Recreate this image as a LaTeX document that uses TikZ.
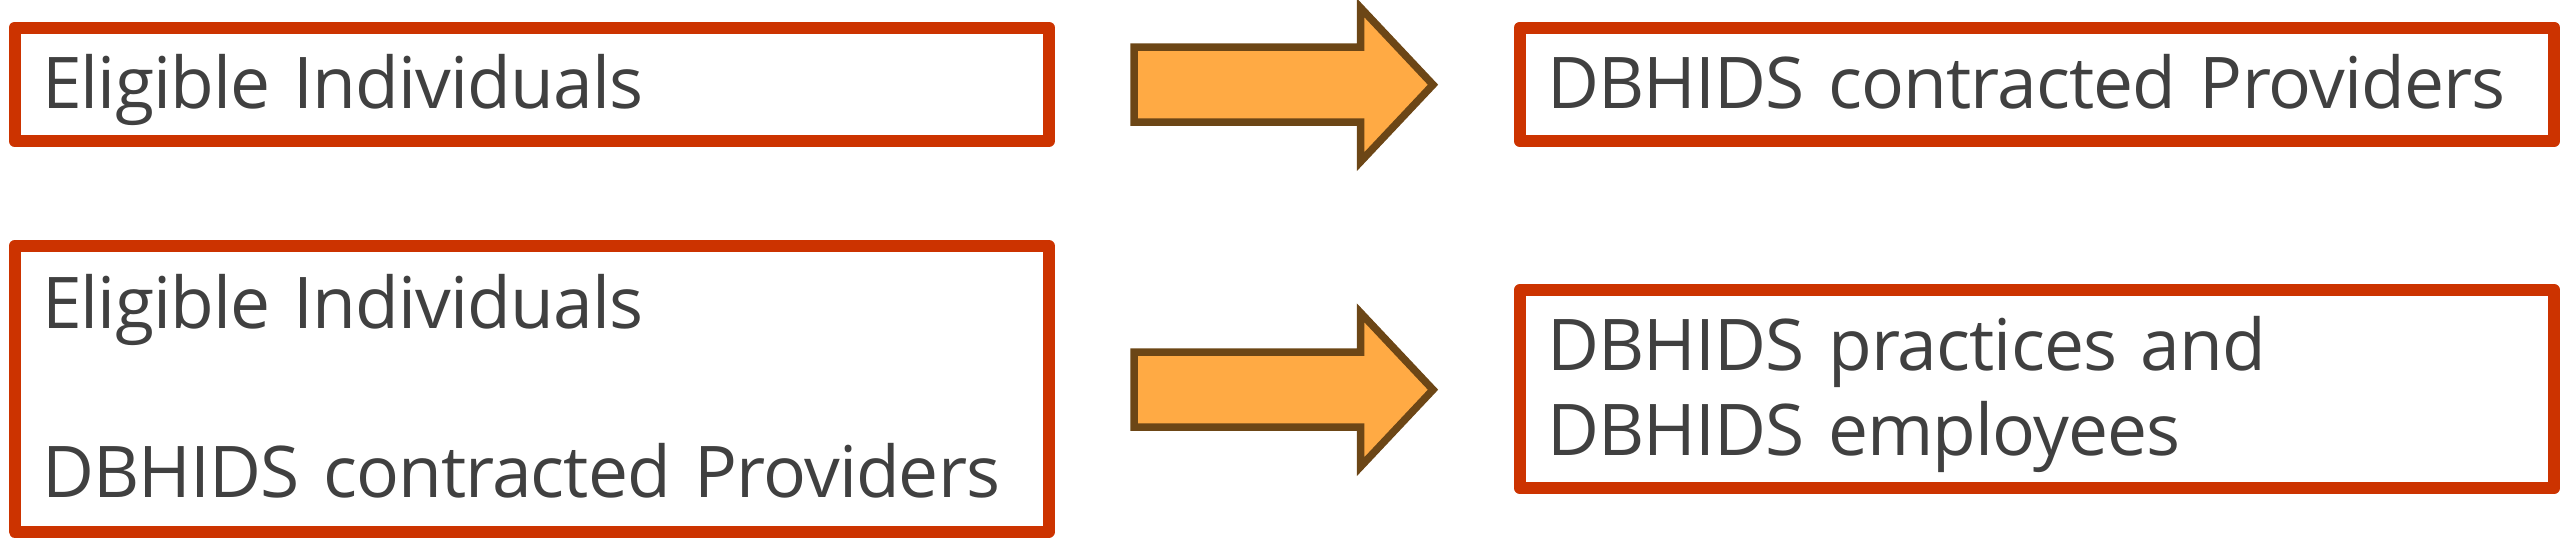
\documentclass[tikz,border=0pt]{standalone}
\usepackage{fontspec}
\setmainfont{Open Sans}[LetterSpace=-1.3]
\definecolor{boxred}{RGB}{204,51,0}
\definecolor{arrfill}{RGB}{255,170,68}
\definecolor{arrline}{RGB}{108,70,22}
\definecolor{txtgray}{RGB}{64,64,64}
\begin{document}
\begin{tikzpicture}[x=0.3pt,y=-0.3pt,
  box/.style={draw=boxred, line width=3.6pt, line join=round, rectangle,
    inner xsep=8.25pt, inner ysep=0pt, text width=293.85pt, align=left,
    text=txtgray, text height=14.4pt,
    font=\fontsize{21.4pt}{25.35pt}\selectfont},
  blockarrow/.style={draw=arrline, fill=arrfill, line width=2.25pt, line join=miter}]
\useasboundingbox (0,0) rectangle (2560,559);
\node[box, minimum width=310.35pt, minimum height=34.05pt, text depth=0pt] (b1) at (531.75,84.25) {\mbox{Eligible Individuals}};
\node[box, minimum width=310.2pt, minimum height=34.05pt, text depth=0pt] (b2) at (2037,84.25) {\mbox{DBHIDS contracted Providers}};
\node[box, minimum width=310.35pt, minimum height=85.65pt, text depth=50.7pt] (b3) at (531.75,388.75) {\mbox{Eligible Individuals}\\\mbox{}\\\mbox{DBHIDS contracted Providers}};
\node[box, minimum width=310.2pt, minimum height=59.4pt, text depth=25.35pt] (b4) at (2037,389) {\mbox{DBHIDS practices and}\\\mbox{DBHIDS employees}};
\path[blockarrow] (1134,47.2) -- (1360.5,47.2) -- (1360.5,7.7) -- (1433,84.7) -- (1360.5,161.7) -- (1360.5,122.2) -- (1134,122.2) -- cycle;
\path[blockarrow] (1134,352.2) -- (1360.5,352.2) -- (1360.5,312.7) -- (1433,389.7) -- (1360.5,466.7) -- (1360.5,427.2) -- (1134,427.2) -- cycle;
\end{tikzpicture}
\end{document}
